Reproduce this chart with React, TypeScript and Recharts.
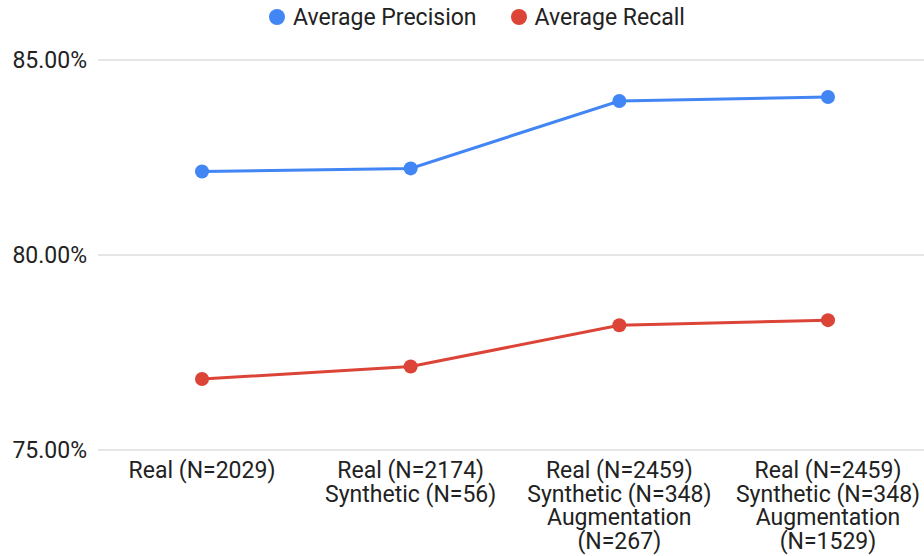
import { LineChart, Line, XAxis, YAxis, CartesianGrid, Legend } from 'recharts';

const categories = [
  'Real (N=2029)',
  'Real (N=2174)\nSynthetic (N=56)',
  'Real (N=2459)\nSynthetic (N=348)\nAugmentation\n(N=267)',
  'Real (N=2459)\nSynthetic (N=348)\nAugmentation\n(N=1529)',
];
const precision = [82.14, 82.22, 83.95, 84.05];
const recall = [76.82, 77.14, 78.2, 78.33];
const yTicks = [75, 80, 85];

const data = categories.map((name, i) => ({
  name,
  precision: precision[i],
  recall: recall[i],
}));

const FONT = 'Roboto, sans-serif';
const BLUE = '#4285F4';
const RED = '#DB4437';

// multi-line category labels
const CategoryTick = (props: any) => {
  const { x, y, payload } = props;
  const lines = String(payload.value).split('\n');
  return (
    <text x={x} y={y} textAnchor="middle" fill="#222" fontSize={23} fontFamily={FONT}>
      {lines.map((line, i) => (
        <tspan key={i} x={x} dy={i === 0 ? '0.71em' : 23.4}>
          {line}
        </tspan>
      ))}
    </text>
  );
};

const LegendContent = () => {
  const items = [
    { label: 'Average Precision', color: BLUE },
    { label: 'Average Recall', color: RED },
  ];
  return (
    <div
      style={{
        height: 34,
        display: 'flex',
        justifyContent: 'center',
        alignItems: 'center',
        paddingLeft: 30,
        gap: 34,
        fontFamily: FONT,
        fontSize: 23,
        color: '#222',
      }}
    >
      {items.map(it => (
        <div key={it.label} style={{ display: 'flex', alignItems: 'center', gap: 8 }}>
          <span style={{ width: 16, height: 16, borderRadius: 8, background: it.color, display: 'inline-block' }} />
          <span>{it.label}</span>
        </div>
      ))}
    </div>
  );
};

export default function App() {
  return (
    <div style={{ position: 'absolute', left: 0, top: 0, width: 924, height: 556, overflow: 'hidden', background: '#fff' }}>
      <LineChart width={932} height={556} data={data} margin={{ top: 26, right: 0, left: 0, bottom: 0 }}>
        <CartesianGrid vertical={false} stroke="#cccccc" />
        <XAxis
          dataKey="name"
          interval={0}
          axisLine={false}
          tickLine={false}
          tickSize={0}
          tickMargin={12}
          height={106}
          padding={{ left: 104, right: 104 }}
          tick={<CategoryTick />}
        />
        <YAxis
          domain={[75, 85]}
          ticks={yTicks}
          width={98}
          axisLine={false}
          tickLine={false}
          tickSize={0}
          tickMargin={11}
          tickFormatter={(v: number) => `${v.toFixed(2)}%`}
          tick={{ fill: '#222', fontSize: 23, fontFamily: FONT }}
        />
        <Legend
          verticalAlign="top"
          content={<LegendContent />}
          wrapperStyle={{ top: 0, left: 0, width: 924 }}
        />
        <Line
          dataKey="precision"
          stroke={BLUE}
          strokeWidth={3}
          dot={{ r: 7, fill: BLUE, stroke: BLUE, strokeWidth: 0 }}
          isAnimationActive={false}
        />
        <Line
          dataKey="recall"
          stroke={RED}
          strokeWidth={3}
          dot={{ r: 7, fill: RED, stroke: RED, strokeWidth: 0 }}
          isAnimationActive={false}
        />
      </LineChart>
    </div>
  );
}
